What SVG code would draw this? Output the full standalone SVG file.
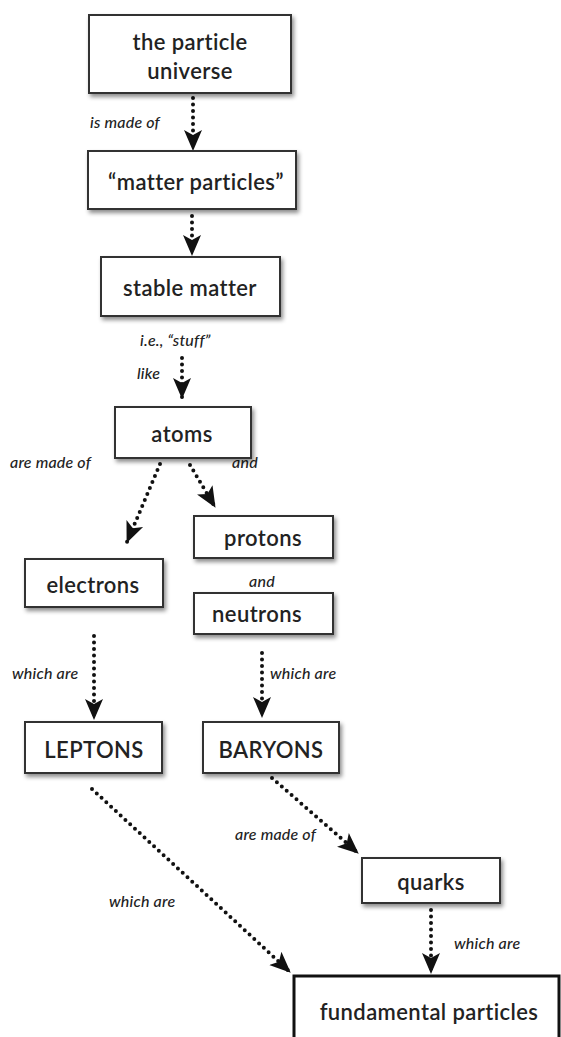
<svg xmlns="http://www.w3.org/2000/svg" width="561" height="1037" viewBox="0 0 561 1037">
<defs>
<filter id="sh" x="-10%" y="-10%" width="130%" height="140%">
<feDropShadow dx="2" dy="3" stdDeviation="2" flood-color="#000" flood-opacity="0.45"/>
</filter>
<marker id="ah" markerUnits="userSpaceOnUse" markerWidth="22" markerHeight="22" viewBox="0 0 22 22" refX="20" refY="11" orient="auto">
<path d="M0,2 L21,11 L0,20 L5,11 z" fill="#111"/>
</marker>
<style>
.box{fill:#fff;stroke:#333;stroke-width:2;filter:url(#sh)}
.nt{font-family:Lato,"Open Sans",sans-serif;font-weight:600;font-size:22px;letter-spacing:0.4px;fill:#222;text-anchor:middle}
.lb{font-family:Lato,"Open Sans",sans-serif;font-style:italic;font-weight:500;font-size:16px;letter-spacing:0.2px;fill:#222}
.cn{fill:none;stroke:#111;stroke-width:4;stroke-linecap:round;stroke-dasharray:0 6.5;marker-end:url(#ah)}
</style>
</defs>
<rect width="561" height="1037" fill="#fff"/>
<g id="connectors">
<path class="cn" d="M193,98 L193,150"/>
<path class="cn" d="M192,216 L192,255"/>
<path class="cn" d="M182,358 L182,398"/>
<path class="cn" d="M160,464 L127,542"/>
<path class="cn" d="M190,465 L215,507"/>
<path class="cn" d="M94,636 L94,719"/>
<path class="cn" d="M262,653 L262,717"/>
<path class="cn" d="M92,789 L290,972"/>
<path class="cn" d="M272,778 L358,853"/>
<path class="cn" d="M431,910 L431,973"/>
</g>
<g id="labels">
<text class="lb" x="90" y="128">is made of</text>
<text class="lb" x="140" y="346">i.e., “stuff”</text>
<text class="lb" x="137" y="379">like</text>
<text class="lb" x="10" y="468">are made of</text>
<text class="lb" x="232" y="468">and</text>
<text class="lb" x="249" y="587">and</text>
<text class="lb" x="12" y="679">which are</text>
<text class="lb" x="270" y="679">which are</text>
<text class="lb" x="235" y="840">are made of</text>
<text class="lb" x="109" y="907">which are</text>
<text class="lb" x="454" y="949">which are</text>
</g>
<g id="n1"><rect class="box" x="89" y="15" width="202" height="78"/><text class="nt" x="190" y="50">the particle</text><text class="nt" x="190" y="79">universe</text></g>
<g id="n2"><rect class="box" x="88" y="151" width="208" height="58"/><text class="nt" x="196" y="190">“matter particles”</text></g>
<g id="n3"><rect class="box" x="101" y="257" width="179" height="59"/><text class="nt" x="190" y="296">stable matter</text></g>
<g id="n4"><rect class="box" x="115" y="407" width="136" height="51"/><text class="nt" x="182" y="442">atoms</text></g>
<g id="n5"><rect class="box" x="194" y="516" width="139" height="42"/><text class="nt" x="263" y="546">protons</text></g>
<g id="n6"><rect class="box" x="194" y="593" width="139" height="41"/><text class="nt" x="257" y="622">neutrons</text></g>
<g id="n7"><rect class="box" x="25" y="559" width="138" height="48"/><text class="nt" x="93" y="593">electrons</text></g>
<g id="n8"><rect class="box" x="25" y="722" width="137" height="51"/><text class="nt" x="94" y="758">LEPTONS</text></g>
<g id="n9"><rect class="box" x="203" y="722" width="136" height="51"/><text class="nt" x="271" y="758">BARYONS</text></g>
<g id="n10"><rect class="box" x="362" y="858" width="138" height="45"/><text class="nt" x="431" y="890">quarks</text></g>
<g id="n11"><rect x="294" y="976" width="265" height="70" fill="#fff" stroke="#111" stroke-width="3"/><text class="nt" x="429" y="1020">fundamental particles</text></g>
</svg>
